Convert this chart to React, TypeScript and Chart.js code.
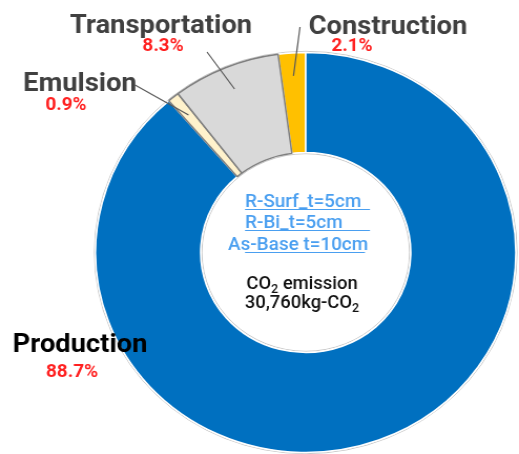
import { useEffect, useRef } from 'react';
import { Chart, registerables } from 'chart.js';

Chart.register(...registerables);

// Emission shares by stage, listed clockwise starting from Construction.
const categories = ['Construction', 'Production', 'Emulsion', 'Transportation'];
const shares = [2.1, 88.7, 0.9, 8.3];
const sliceColors = ['#FFC000', '#0070C0', '#FFF2CC', '#D9D9D9'];
const edgeColors = ['#ffffff', '#ffffff', '#7f7f7f', '#7f7f7f'];

// Pavement layers and total written inside the hole.
const layerLines = ['R-Surf_t=5cm', 'R-Bi_t=5cm', 'As-Base t=10cm'];
const totalLabel = '30,760kg-CO';

// The canvas is drawn narrower than it is shown, so the ring is slightly wider than tall.
const CANVAS_W = 494;
const CANVAS_H = 454;
const SHOWN_W = 519;
const SX = SHOWN_W / CANVAS_W;

type Placement = {
  nameX: number;
  nameY: number;
  valueX: number;
  valueY: number;
  color: string;
  lead: [number, number] | null;
};

// Label anchors in displayed-page pixels, one per category.
const placements: Placement[] = [
  { nameX: 388, nameY: 34, valueX: 352, valueY: 51, color: '#404040', lead: [300, 27] },
  { nameX: 80, nameY: 352, valueX: 72, valueY: 377, color: '#000000', lead: null },
  { nameX: 80, nameY: 91, valueX: 66, valueY: 110, color: '#404040', lead: [135, 85] },
  { nameX: 161, nameY: 33, valueX: 163, valueY: 51, color: '#404040', lead: [207, 52] },
];

type Run = { text: string; sub?: boolean };

function drawRuns(
  ctx: CanvasRenderingContext2D,
  runs: Run[],
  cx: number,
  y: number,
  size: number,
  weight: number,
  color: string
) {
  const main = `${weight} ${size}px Roboto`;
  const small = `${weight} ${Math.round(size * 0.66)}px Roboto`;
  let total = 0;
  for (const r of runs) {
    ctx.font = r.sub ? small : main;
    total += ctx.measureText(r.text).width;
  }
  let x = cx - total / 2;
  ctx.fillStyle = color;
  ctx.textAlign = 'left';
  ctx.textBaseline = 'alphabetic';
  for (const r of runs) {
    ctx.font = r.sub ? small : main;
    ctx.fillText(r.text, x, r.sub ? y + size * 0.24 : y);
    x += ctx.measureText(r.text).width;
  }
}

const rimPlugin = {
  id: 'rim',
  beforeDatasetsDraw(chart: any) {
    const arc: any = chart.getDatasetMeta(0).data[0];
    if (!arc) return;
    const { ctx } = chart;
    ctx.save();
    ctx.strokeStyle = 'rgba(0,0,0,0.22)';
    ctx.lineWidth = 1;
    ctx.beginPath();
    ctx.arc(arc.x, arc.y, arc.outerRadius + 1.2, 0, Math.PI * 2);
    ctx.stroke();
    ctx.beginPath();
    ctx.arc(arc.x, arc.y, arc.innerRadius - 1.2, 0, Math.PI * 2);
    ctx.stroke();
    ctx.restore();
  },
};

const labelPlugin = {
  id: 'sliceLabels',
  afterDraw(chart: any) {
    const { ctx } = chart;
    const meta = chart.getDatasetMeta(0);
    ctx.save();

    // leader lines from inside each small slice to its label
    meta.data.forEach((arc: any, i: number) => {
      const p = placements[i];
      if (!p.lead) return;
      const mid = (arc.startAngle + arc.endAngle) / 2;
      const r = arc.outerRadius * 0.885;
      ctx.strokeStyle = '#595959';
      ctx.lineWidth = 1.2;
      ctx.beginPath();
      ctx.moveTo(arc.x + Math.cos(mid) * r, arc.y + Math.sin(mid) * r);
      ctx.lineTo(p.lead[0] / SX, p.lead[1]);
      ctx.stroke();
    });

    // category names and their percentages
    categories.forEach((name, i) => {
      const p = placements[i];
      drawRuns(ctx, [{ text: name }], p.nameX / SX, p.nameY, 26, 700, p.color);
      drawRuns(ctx, [{ text: `${shares[i].toFixed(1)}%` }], p.valueX / SX, p.valueY, 18, 700, '#ff2020');
    });

    // layer list, underlined
    const blue = '#4a9ff0';
    const layerX = [245, 245, 228];
    const layerY = [207, 228, 250];
    const ulStart = [245, 245, 245];
    const ulEnd = [370, 370, 365];
    layerLines.forEach((t, i) => {
      ctx.font = '500 18px Roboto';
      ctx.fillStyle = blue;
      ctx.textAlign = 'left';
      ctx.textBaseline = 'alphabetic';
      ctx.fillText(t, layerX[i] / SX, layerY[i]);
      ctx.strokeStyle = blue;
      ctx.lineWidth = 1;
      ctx.beginPath();
      ctx.moveTo(ulStart[i] / SX, layerY[i] + 2.5);
      ctx.lineTo(ulEnd[i] / SX, layerY[i] + 2.5);
      ctx.stroke();
    });

    // total emission
    drawRuns(ctx, [{ text: 'CO' }, { text: '2', sub: true }, { text: ' emission' }], 302 / SX, 289, 17.5, 500, '#111111');
    drawRuns(ctx, [{ text: totalLabel }, { text: '2', sub: true }], 302 / SX, 308, 17.5, 500, '#111111');

    ctx.restore();
  },
};

export default function App() {
  const ref = useRef<HTMLCanvasElement | null>(null);

  useEffect(() => {
    if (!ref.current) return;
    const total = shares.reduce((a, b) => a + b, 0);
    const chart = new Chart(ref.current, {
      type: 'doughnut',
      data: {
        labels: categories,
        datasets: [
          {
            data: shares,
            backgroundColor: sliceColors,
            borderColor: edgeColors,
            borderWidth: 1.5,
          },
        ],
      },
      options: {
        responsive: false,
        animation: false,
        devicePixelRatio: 1,
        rotation: (-shares[0] / total) * 360,
        radius: 200,
        cutout: '50%',
        layout: { padding: { left: 89, right: 1, top: 52, bottom: 1 } },
        plugins: {
          legend: { display: false },
          tooltip: { enabled: false },
        },
      },
      plugins: [rimPlugin, labelPlugin],
    });
    return () => chart.destroy();
  }, []);

  return (
    <div style={{ position: 'absolute', left: 0, top: 0, width: SHOWN_W, height: CANVAS_H, background: '#fff' }}>
      <canvas
        ref={ref}
        width={CANVAS_W}
        height={CANVAS_H}
        style={{ width: `${SHOWN_W}px`, height: `${CANVAS_H}px`, display: 'block' }}
      />
    </div>
  );
}
